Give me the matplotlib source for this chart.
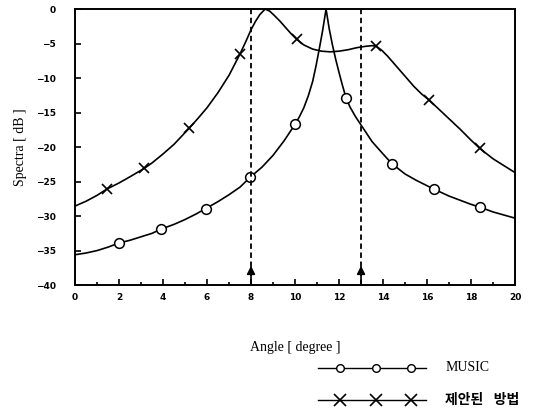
import matplotlib
matplotlib.use("Agg")
import matplotlib.pyplot as plt
from matplotlib.lines import Line2D
import matplotlib.ticker as ticker

# MUSIC spectrum
music_x = [0, 0.5, 1, 1.5, 2, 2.5, 3, 3.5, 3.9, 4.5, 5, 5.5, 5.95, 6.5, 7, 7.5, 7.95, 8.5, 9, 9.5,
           10.0, 10.2, 10.4, 10.6, 10.8, 10.95, 11.1, 11.25, 11.41,
           11.55, 11.7, 11.85, 12.0, 12.15, 12.32, 12.5, 12.75, 13.0, 13.5, 14.0, 14.4, 15, 15.5,
           16, 16.32, 17, 17.5, 18, 18.4, 19, 19.5, 20]
music_y = [-35.6, -35.35, -35.0, -34.5, -33.9, -33.5, -33.0, -32.5, -31.9, -31.2, -30.5, -29.7,
           -28.9, -27.9, -26.9, -25.8, -24.4, -22.9, -21.2, -19.1,
           -16.7, -15.6, -14.3, -12.6, -10.5, -8.3, -5.8, -3.2, 0,
           -2.8, -5.2, -7.3, -9.2, -11.0, -12.9, -14.2, -15.6, -16.8, -19.2, -21.0, -22.4, -23.9,
           -24.8, -25.6, -26.1, -27.1, -27.7, -28.3, -28.7, -29.4, -29.85, -30.3]
music_mx = [2.0, 3.9, 5.95, 7.95, 10.0, 12.32, 14.4, 16.32, 18.4]
music_my = [-33.9, -31.9, -28.9, -24.4, -16.7, -12.9, -22.4, -26.1, -28.7]

# proposed method spectrum
prop_x = [0, 0.5, 1, 1.44, 2, 2.5, 3.14, 3.5, 4, 4.5, 5.18, 5.6, 6, 6.5, 7, 7.5, 7.75, 8.0, 8.2,
          8.4, 8.64, 8.85, 9.05, 9.3, 9.55, 9.8, 10.08, 10.4, 10.8, 11.2, 11.6, 12.0, 12.4, 12.8,
          13.2, 13.5, 13.7, 13.95, 14.2, 14.5, 14.8, 15.1, 15.4, 15.75, 16.1, 16.5, 17, 17.5, 18,
          18.4, 19, 19.5, 20]
prop_y = [-28.55, -27.85, -27.0, -26.1, -25.2, -24.3, -23.1, -22.3, -21.0, -19.6, -17.3, -15.8,
          -14.3, -12.1, -9.6, -6.5, -4.8, -3.0, -1.8, -0.8, 0, -0.3, -0.9, -1.7, -2.6, -3.5, -4.4,
          -5.2, -5.8, -6.1, -6.2, -6.1, -5.9, -5.6, -5.4, -5.3, -5.4, -6.0, -6.8, -7.9, -9.0,
          -10.1, -11.2, -12.3, -13.2, -14.4, -15.9, -17.4, -19.0, -20.2, -21.7, -22.7, -23.7]
prop_mx = [1.44, 3.14, 5.18, 7.5, 10.08, 13.7, 16.1, 18.4]
prop_my = [-26.1, -23.1, -17.3, -6.5, -4.4, -5.4, -13.2, -20.2]

true_angles = [8, 13]
legend_labels = ["MUSIC", "제안된   방법"]

plt.rcParams["font.family"] = ["Liberation Serif", "Noto Sans CJK KR"]

fig = plt.figure(figsize=(5.49, 4.12), dpi=100)
ax = fig.add_axes([0.1366, 0.308, 0.8016, 0.670])

ax.plot(music_x, music_y, color="black", lw=1.2)
ax.plot(music_mx, music_my, "o", ms=7, mfc="white", mec="black", mew=1.1)
ax.plot(prop_x, prop_y, color="black", lw=1.2)
ax.plot(prop_mx, prop_my, "x", ms=7, color="black", mew=1.2)

for a in true_angles:
    ax.plot([a, a], [-40, 0], color="black", lw=1.3, ls=(0, (3, 2)))
    ax.annotate("", xy=(a, -37.2), xytext=(a, -40),
                arrowprops=dict(arrowstyle="-|>", color="black", lw=1.2,
                                mutation_scale=12, shrinkA=0, shrinkB=0))

ax.set_xlim(0, 20)
ax.set_ylim(-40, 0)
ax.xaxis.set_major_locator(ticker.MultipleLocator(2))
ax.xaxis.set_minor_locator(ticker.MultipleLocator(1))
ax.yaxis.set_major_locator(ticker.MultipleLocator(5))
ax.tick_params(which="both", direction="in", labelsize=6.5, width=1.2)
ax.tick_params(which="major", length=4)
ax.tick_params(which="minor", length=2.5)
ax.tick_params(axis="y", pad=14)
ax.tick_params(axis="x", pad=6)
for lbl in ax.get_xticklabels() + ax.get_yticklabels():
    lbl.set_fontweight("bold")
    lbl.set_family("DejaVu Sans")
for s in ax.spines.values():
    s.set_linewidth(1.4)

ax.set_xlabel("Angle [ degree ]", fontsize=10, labelpad=28)
ax.set_ylabel("Spectra [ dB ]", fontsize=10, labelpad=6)

# legend drawn by hand below the axes (line longer than the marker span)
leg_rows = [(0.107, dict(marker="o", ms=5.5, mfc="white", mec="black", mew=1.0), "normal"),
            (0.029, dict(marker="x", ms=8, mec="black", mew=1.2), "bold")]
for (yy, mk, wt), text in zip(leg_rows, legend_labels):
    fig.add_artist(Line2D([0.579, 0.776], [yy, yy], transform=fig.transFigure,
                          color="black", lw=1.0))
    fig.add_artist(Line2D([0.619, 0.685, 0.749], [yy] * 3, transform=fig.transFigure,
                          ls="none", **mk))
    fig.text(0.811, yy, text, fontsize=10, va="center", ha="left", fontweight=wt)

fig.savefig("out.png", dpi=100)
